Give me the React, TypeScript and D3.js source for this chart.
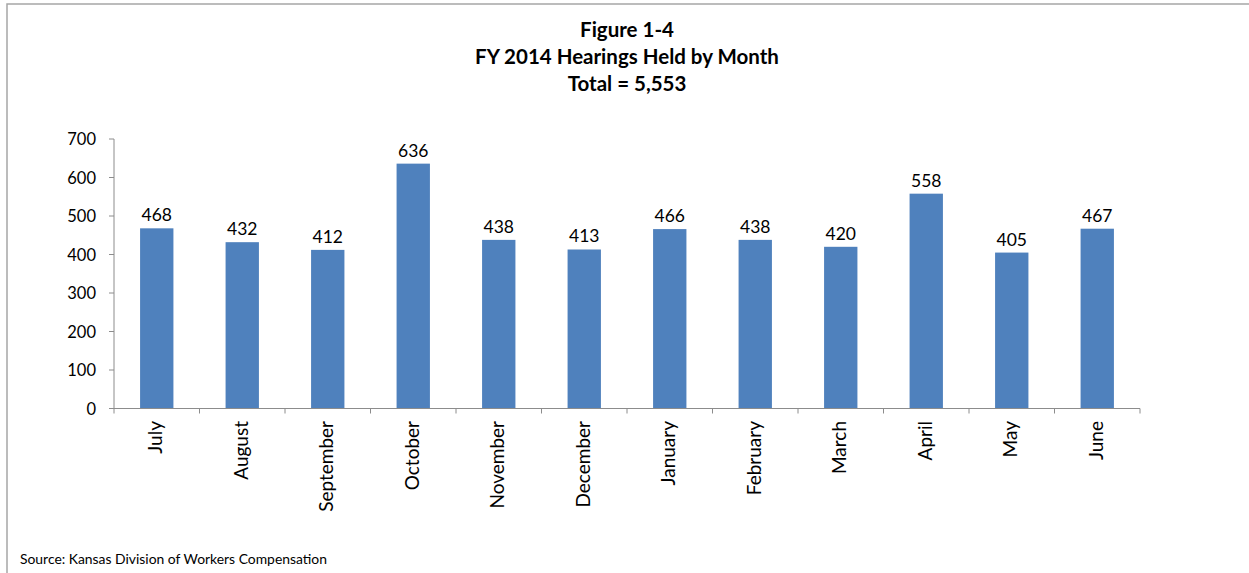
import React from "react";
import * as d3 from "d3";

const months = ["July", "August", "September", "October", "November", "December", "January", "February", "March", "April", "May", "June"];
const hearings = [468, 432, 412, 636, 438, 413, 466, 438, 420, 558, 405, 467];
const yTicks = [0, 100, 200, 300, 400, 500, 600, 700];
const titleLines = ["Figure 1-4", "FY 2014 Hearings Held by Month", "Total = 5,553"];
const sourceText = "Source: Kansas Division of Workers Compensation";

const W = 1249;
const H = 573;
const FONT = "Lato, 'Open Sans', sans-serif";

export default function App() {
  const x = d3.scaleBand<string>().domain(months).range([114, 1140]).paddingInner(0.61).paddingOuter(0.305);
  const band = d3.scaleBand<string>().domain(months).range([114, 1140]);
  const y = d3.scaleLinear().domain([0, 700]).range([408.5, 139]);
  const axisColor = "#8c8c8c";
  return (
    <svg width={W} height={H} style={{ position: "absolute", left: 0, top: 0, background: "#fff" }} fontFamily={FONT}>
      <rect x={7} y={4} width={W + 10} height={H + 10} fill="#fff" stroke="#a6a6a6" strokeWidth={1.5} />
      {titleLines.map((t, i) => (
        <text key={i} x={627} y={37 + i * 27} textAnchor="middle" fontSize={20.5} fontWeight="bold" fill="#000">{t}</text>
      ))}
      {months.map((m, i) => (
        <rect key={m} x={x(m)} y={y(hearings[i])} width={x.bandwidth()} height={y(0) - y(hearings[i])} fill="#4F81BD" />
      ))}
      {months.map((m, i) => (
        <text key={m + "v"} x={(x(m) as number) + x.bandwidth() / 2} y={y(hearings[i]) - 7} textAnchor="middle" fontSize={17.5} fill="#000">{hearings[i]}</text>
      ))}
      <line x1={114} x2={114} y1={y(700)} y2={y(0)} stroke={axisColor} strokeWidth={1} />
      {yTicks.map((t) => (
        <g key={t}>
          <line x1={109} x2={114} y1={y(t)} y2={y(t)} stroke={axisColor} strokeWidth={1} />
          <text x={96} y={y(t) + 6} textAnchor="end" fontSize={16.5} fill="#000">{t}</text>
        </g>
      ))}
      <line x1={114} x2={1140} y1={y(0)} y2={y(0)} stroke={axisColor} strokeWidth={1} />
      {months.map((m) => (
        <line key={m + "t"} x1={band(m) as number} x2={band(m) as number} y1={y(0)} y2={y(0) + 5} stroke={axisColor} strokeWidth={1} />
      ))}
      <line x1={1140} x2={1140} y1={y(0)} y2={y(0) + 5} stroke={axisColor} strokeWidth={1} />
      {months.map((m) => {
        const cx = (band(m) as number) + band.bandwidth() / 2 + 5.5;
        return (
          <text key={m + "l"} transform={`translate(${cx},${421}) rotate(-90)`} textAnchor="end" fontSize={19} fill="#000">{m}</text>
        );
      })}
      <text x={20} y={564} fontSize={13.9} fill="#000">{sourceText}</text>
    </svg>
  );
}
